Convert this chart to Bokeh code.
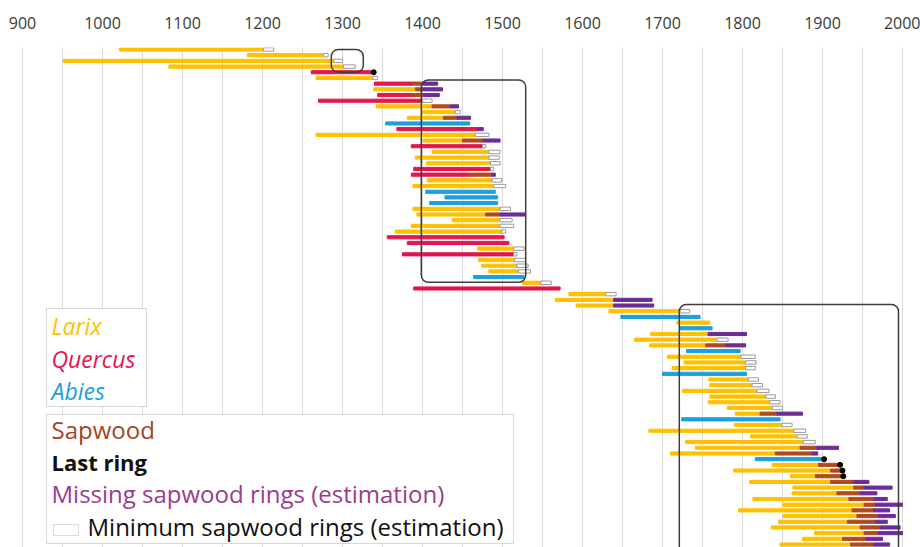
import math
from bokeh.plotting import figure
from bokeh.models import Range1d, FixedTicker, BoxAnnotation, Label, ColumnDataSource
from bokeh.embed import file_html
from bokeh.resources import INLINE

N = None
# ---- data (one entry per dated timber, top to bottom) ----
species = ["L","L","L","L","Q","L","Q","L","Q","Q",
           "L","L","L","A","Q","L","L","Q","L","L",
           "L","Q","Q","L","L","A","A","A","L","L",
           "L","L","L","Q","Q","L","Q","L","L","L",
           "A","L","Q","L","L","L","L","A","L","A",
           "L","L","L","A","L","L","L","A","L","L",
           "L","L","L","L","L","A","L","L","L","L",
           "L","L","A","L","L","L","L","L","L","L",
           "L","L","L","L","L","L","L","L"]
start = [1021,1181,951,1083,1261,1267,1340,1339,1344,1270,
         1342,1400,1381,1354,1368,1267,1401,1386,1412,1391,
         1405,1389,1386,1406,1388,1404,1428,1409,1388,1393,
         1437,1386,1366,1356,1381,1469,1375,1470,1474,1483,
         1464,1525,1389,1583,1566,1592,1633,1648,1718,1722,
         1685,1665,1684,1730,1706,1727,1712,1700,1758,1759,
         1725,1759,1757,1781,1791,1724,1790,1683,1810,1729,
         1741,1710,1816,1837,1789,1860,1809,1863,1862,1813,
         1850,1795,1851,1845,1836,1890,1875,1847]
heart_end = [1201,1276,1289,1301,1339,1338,1387,1391,1387,1400,
             1412,1441,1426,1459,1469,1466,1450,1475,1483,1483,
             1485,1485,1457,1487,1489,1491,1494,1494,1497,1479,
             1497,1497,1499,1502,1508,1514,1514,1515,1518,1520,
             1527,1548,1572,1629,1639,1639,1722,1747,1759,1762,
             1757,1768,1754,1797,1798,1804,1804,1805,1807,1812,
             1818,1829,1834,1837,1822,1847,1849,1864,1868,1876,
             1872,1841,1902,1895,1910,1891,1910,1939,1918,1933,
             1952,1937,1943,1931,1947,1952,1925,1935]
sap_end = [N,N,N,N,N,N,1400,1400,1401,N,
           1435,N,1443,N,N,N,1476,N,N,N,
           N,N,1487,N,N,N,N,N,N,1497,
           N,N,N,N,N,N,N,N,N,N,
           N,N,N,N,N,N,N,N,N,N,
           N,N,1779,N,N,N,N,N,N,N,
           N,N,N,N,1843,N,N,N,N,N,
           1893,1887,N,1922,1925,1926,1939,1952,1947,1964,
           1966,1964,1970,1966,1972,1970,1954,1964]
missing_end = [N,N,N,N,N,N,1419,1425,1421,N,
               1445,N,1460,N,1476,N,1497,N,N,N,
               N,N,1491,N,N,N,N,N,N,1528,
               N,N,N,N,N,N,N,N,N,N,
               N,N,N,N,1687,1689,N,N,N,N,
               1805,N,1804,N,N,N,N,N,N,N,
               N,N,N,N,1875,N,N,N,N,N,
               1920,1894,N,N,N,N,1958,1987,1968,1981,
               2000,1984,1991,1981,1997,2000,1975,1984]
min_sap_end = [1214,1282,1300,1316,N,1344,N,N,N,1412,
               N,1447,N,N,N,1483,N,1479,1497,1496,
               1497,1489,N,1499,1504,N,N,N,1510,N,
               1512,1514,1504,N,N,1527,1518,1529,1532,1535,
               N,1561,N,1642,N,N,1734,N,N,N,
               N,1782,N,N,1816,1817,1816,N,1820,1825,
               1833,1841,1847,1850,N,N,1862,1879,1881,1891,
               N,N,N,N,N,N,N,N,N,N,
               N,N,N,N,N,N,N,N]
last_ring = [0,0,0,0,1,0,0,0,0,0,
             0,0,0,0,0,0,0,0,0,0,
             0,0,0,0,0,0,0,0,0,0,
             0,0,0,0,0,0,0,0,0,0,
             0,0,0,0,0,0,0,0,0,0,
             0,0,0,0,0,0,0,0,0,0,
             0,0,0,0,0,0,0,0,0,0,
             0,0,1,1,1,1,0,0,0,0,
             0,0,0,0,0,0,0,0]

# highlighted groups (rounded frames): year from, year to, first row, last row
frame_x0 = [1286, 1398.5, 1721]
frame_x1 = [1326, 1529, 1995]
frame_r0 = [0.0, 5.35, 44.8]
frame_r1 = [4.0, 40.9, 92.0]

tick_years = list(range(900, 2001, 100))
grid_years = list(range(900, 2001, 50))

species_names = ["Larix", "Quercus", "Abies"]
species_colors = {"L": "#FFC000", "Q": "#E4154C", "A": "#1C9FDB"}
SAP_COLOR = "#B04A1E"
MISS_COLOR = "#6E2C96"
FONT = "Open Sans"

# ---- layout ----
W, H = 920, 547
TOP = 47
FRAME_H = H - TOP
ROW_PX = 5.69
PX_PER_YEAR = 0.8
X0 = 1000 - 102 / PX_PER_YEAR
Y_TOP = -0.35
Y_BOT = Y_TOP + FRAME_H / ROW_PX

def dx(px):  # picture pixel -> year
    return X0 + px / PX_PER_YEAR

def dy(py):  # picture pixel -> row
    return Y_TOP + (py - TOP) / ROW_PX

p = figure(width=W, height=H, output_backend="svg", toolbar_location=None,
           x_axis_location="above", y_axis_location=None,
           x_range=Range1d(X0, X0 + W / PX_PER_YEAR), y_range=Range1d(Y_BOT, Y_TOP),
           min_border_left=0, min_border_right=0, min_border_bottom=0, min_border_top=TOP)
p.outline_line_color = None
p.background_fill_color = "white"
p.border_fill_color = "white"
p.ygrid.visible = False
p.xgrid.ticker = FixedTicker(ticks=grid_years)
p.xgrid.grid_line_color = "#d9d9d9"
p.xgrid.grid_line_width = 1
ax = p.xaxis[0]
ax.ticker = FixedTicker(ticks=tick_years)
ax.axis_line_color = None
ax.major_tick_line_color = None
ax.minor_tick_line_color = None
ax.major_label_standoff = 13
ax.major_label_text_font = FONT
ax.major_label_text_font_size = "16px"
ax.major_label_text_color = "#3a3a3a"

n = len(species)
rows = list(range(n))

# heartwood segments
src = ColumnDataSource(dict(y=rows, left=start, right=heart_end,
                            color=[species_colors[s] for s in species]))
p.hbar(y="y", left="left", right="right", height=0.55, color="color", source=src)

# sapwood
sy, sl, sr = [], [], []
for i in rows:
    if sap_end[i] is not None:
        sy.append(i); sl.append(heart_end[i]); sr.append(sap_end[i])
p.hbar(y=sy, left=sl, right=sr, height=0.55, color=SAP_COLOR)

# missing sapwood
my, ml, mr = [], [], []
for i in rows:
    if missing_end[i] is not None:
        base = sap_end[i] if sap_end[i] is not None else heart_end[i]
        my.append(i); ml.append(base); mr.append(missing_end[i])
p.hbar(y=my, left=ml, right=mr, height=0.55, color=MISS_COLOR)

# minimum sapwood boxes
by, bl, br = [], [], []
for i in rows:
    if min_sap_end[i] is not None:
        base = sap_end[i] if sap_end[i] is not None else heart_end[i]
        by.append(i); bl.append(base); br.append(min_sap_end[i])
p.hbar(y=by, left=bl, right=br, height=0.6, fill_color="white",
       line_color="#9a9a9a", line_width=1)

# last ring
ly, lx = [], []
for i in rows:
    if last_ring[i]:
        ly.append(i); lx.append(sap_end[i] if sap_end[i] is not None else heart_end[i])
p.scatter(x=lx, y=ly, size=5, marker="circle", color="black")

# rounded group frames
p.quad(left=frame_x0, right=frame_x1, top=frame_r0, bottom=frame_r1,
       fill_color=None, line_color="#3d3d3d", line_width=1.5, border_radius=7)

# ---- legends ----
p.add_layout(BoxAnnotation(left=dx(46), right=dx(146), top=dy(308), bottom=dy(406),
                           fill_color="white", fill_alpha=1, line_color="#7a7a7a",
                           line_width=1, level="overlay"))
p.add_layout(BoxAnnotation(left=dx(46), right=dx(513), top=dy(414), bottom=dy(543),
                           fill_color="white", fill_alpha=1, line_color="#7a7a7a",
                           line_width=1, level="overlay"))
p.add_layout(BoxAnnotation(left=dx(53), right=dx(78), top=dy(524), bottom=dy(535),
                           fill_color="white", fill_alpha=1, line_color="#8a8a8a",
                           line_width=1, level="overlay"))

sp_cols = [species_colors["L"], species_colors["Q"], species_colors["A"]]
for name, col, base in zip(species_names, sp_cols, [325, 358, 390]):
    p.add_layout(Label(x=dx(51), y=dy(base), text=name, text_color=col,
                       text_font=FONT, text_font_style="italic",
                       text_font_size="23px", text_baseline="alphabetic",
                       level="overlay"))

leg2 = [("Sapwood", "#A3461F", "normal", "24px", 51, 429),
        ("Last ring", "#111111", "bold", "22px", 51, 461),
        ("Missing sapwood rings (estimation)", "#9A3B8C", "normal", "24px", 51, 493),
        ("Minimum sapwood rings (estimation)", "#111111", "normal", "24px", 87, 526)]
for txt, col, style, size, lx0, base in leg2:
    p.add_layout(Label(x=dx(lx0), y=dy(base), text=txt, text_color=col,
                       text_font=FONT, text_font_style=style,
                       text_font_size=size, text_baseline="alphabetic",
                       level="overlay"))

open("out.html", "w").write(file_html(p, INLINE))
